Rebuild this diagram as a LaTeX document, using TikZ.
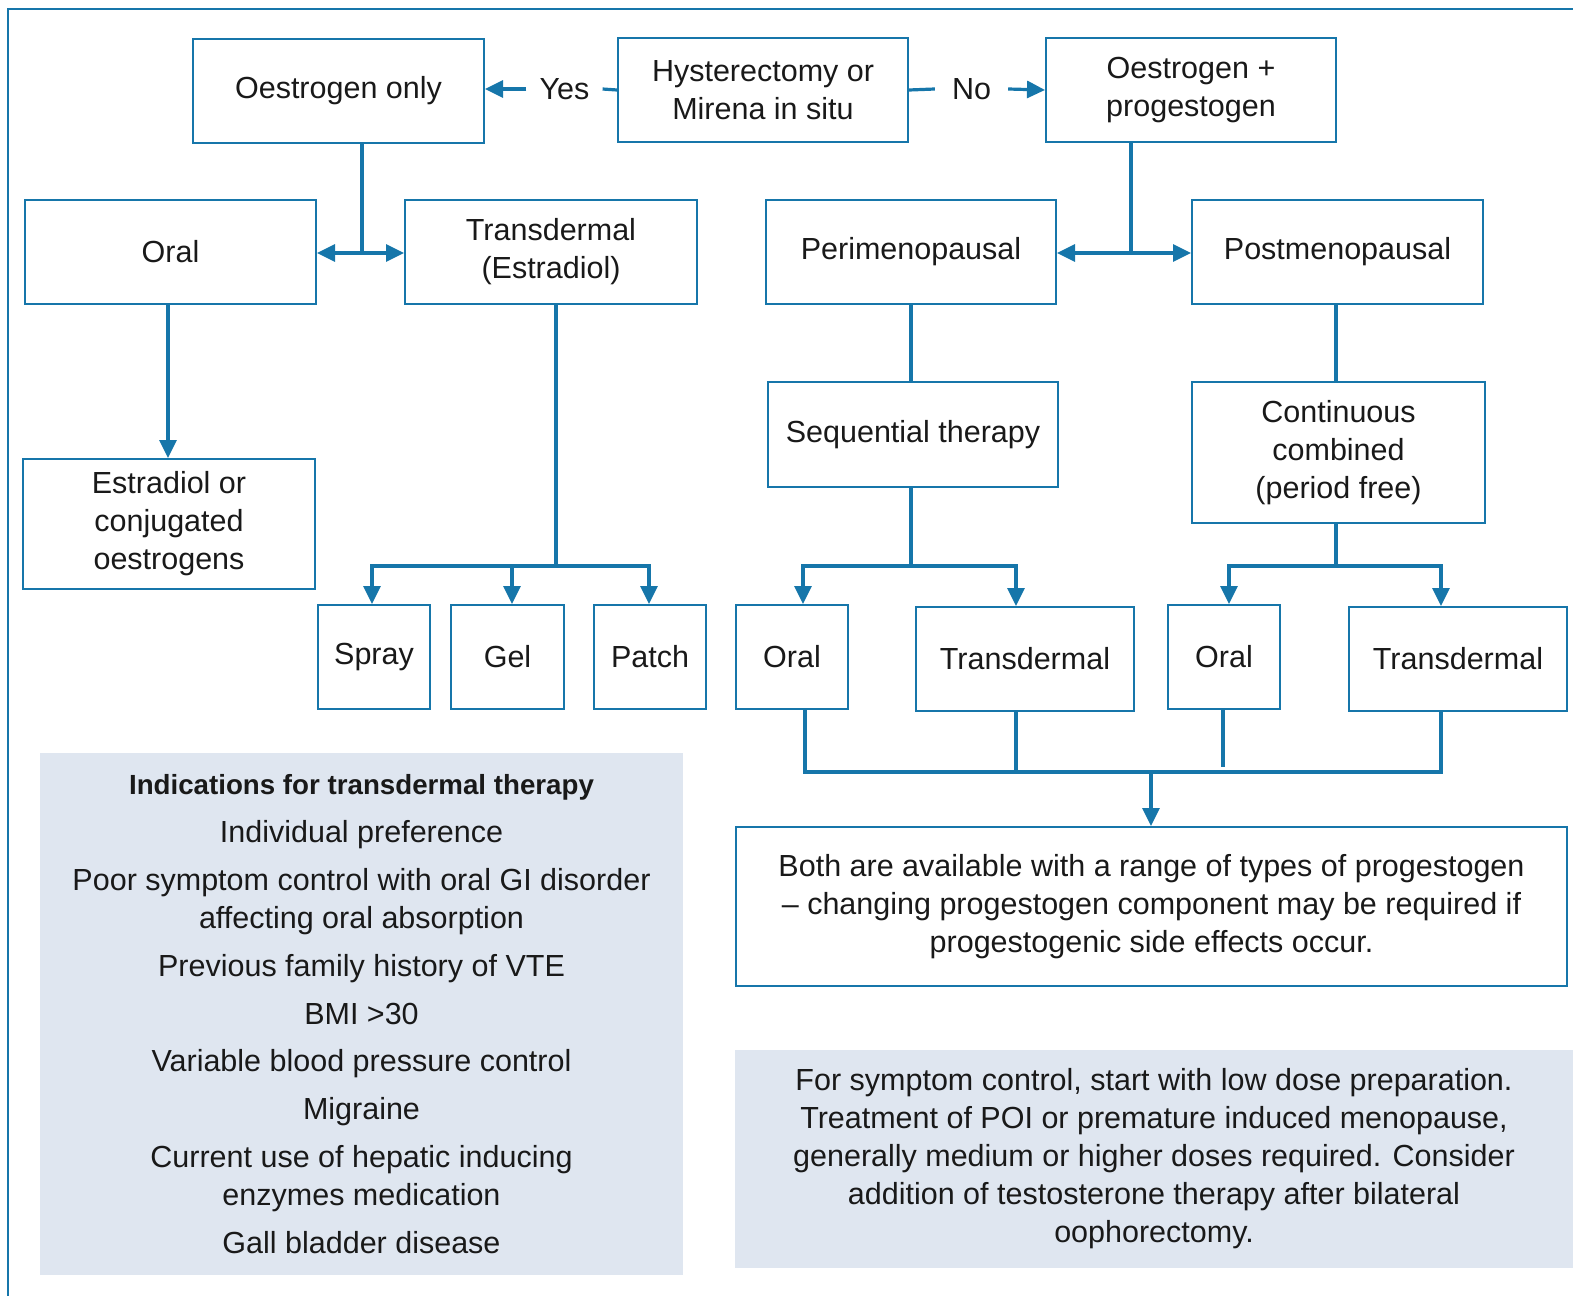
\documentclass[tikz,border=0pt]{standalone}
\usepackage{fontspec}
\setmainfont{Liberation Sans}
\usetikzlibrary{arrows.meta}
\definecolor{lb}{RGB}{22,118,170}
\definecolor{gb}{RGB}{223,230,240}
\definecolor{tx}{RGB}{25,25,25}
\begin{document}
\begin{tikzpicture}[x=1pt,y=-1pt,
  box/.style={draw=lb, line width=2pt, inner sep=0pt, align=center, text=tx,
    font=\fontsize{30.5}{38}\selectfont},
  lbl/.style={inner ysep=0pt, text=tx, font=\fontsize{30.5}{38}\selectfont},
  grey/.style={fill=gb, inner sep=0pt, align=center, text=tx,
    font=\fontsize{30.5}{38}\selectfont},
  conn/.style={draw=lb, line width=3.2pt},
  arr/.style={conn, -{Triangle[length=18pt,width=17pt]}}]
\useasboundingbox (0,0) rectangle (1573,1295);
\draw[lb, line width=2pt] (8,1300) -- (8,9) -- (1580,9);

% top row
\node[box, minimum width=291pt, minimum height=104pt] (oe) at (338.5,91) {Oestrogen only};
\node[box, minimum width=290pt, minimum height=104pt] (hy) at (763,90) {Hysterectomy or\\Mirena in situ};
\node[box, minimum width=290pt, minimum height=104pt] (op) at (1191,90) {Oestrogen +\\progestogen};
\node[lbl, inner xsep=13pt] (yes) at (564.5,89) {Yes};
\node[lbl, inner xsep=17pt] (no) at (971.5,89) {No};

% second row
\node[box, minimum width=291pt, minimum height=104pt] (oral) at (170.5,252) {Oral};
\node[box, minimum width=292pt, minimum height=104pt] (td) at (551,252) {Transdermal\\(Estradiol)};
\node[box, minimum width=290pt, minimum height=104pt] (peri) at (911,252) {Perimenopausal};
\node[box, minimum width=291pt, minimum height=104pt] (post) at (1337.5,252) {Postmenopausal};

% third row
\node[box, minimum width=292pt, minimum height=130pt] (estr) at (169,524) {Estradiol or\\conjugated\\oestrogens};
\node[box, minimum width=290pt, minimum height=105pt] (seq) at (913,434.5) {Sequential therapy};
\node[box, minimum width=293pt, minimum height=141pt] (cont) at (1338.5,452.5) {Continuous\\combined\\(period free)};

% fourth row
\node[box, minimum width=112pt, minimum height=104pt] (spray) at (374,657) {Spray};
\node[box, minimum width=113pt, minimum height=104pt] (gel) at (507.5,657) {Gel};
\node[box, minimum width=112pt, minimum height=104pt] (patch) at (650,657) {Patch};
\node[box, minimum width=112pt, minimum height=104pt] (oral3) at (792,657) {Oral};
\node[box, minimum width=218pt, minimum height=104pt] (td4) at (1025,659) {Transdermal};
\node[box, minimum width=112pt, minimum height=104pt] (oral5) at (1224,657) {Oral};
\node[box, minimum width=218pt, minimum height=104pt] (td6) at (1458,659) {Transdermal};

% bottom boxes
\node[box, minimum width=831pt, minimum height=159pt] (both) at (1151.5,906.5)
  {Both are available with a range of types of progestogen\\
   -- changing progestogen component may be required if\\
   progestogenic side effects occur.};
\node[grey, minimum width=643pt, minimum height=522pt] (ind) at (361.5,1014)
  {{\bfseries\fontsize{27.7}{38}\selectfont Indications for transdermal therapy}\\[10pt]
   Individual preference\\[10pt]
   Poor symptom control with oral GI disorder\\
   affecting oral absorption\\[10pt]
   Previous family history of VTE\\[10pt]
   BMI >30\\[9pt]
   Variable blood pressure control\\[10pt]
   Migraine\\[10pt]
   Current use of hepatic inducing\\
   enzymes medication\\[10pt]
   Gall bladder disease};
\node[grey, minimum width=838pt, minimum height=218pt] (sym) at (1154,1159)
  {For symptom control, start with low dose preparation.\\
   Treatment of POI or premature induced menopause,\\
   generally medium or higher doses required. Consider\\
   addition of testosterone therapy after bilateral\\
   oophorectomy.};

% connectors: top
\draw[conn] (hy.west) -- (yes.east);
\draw[arr] (yes.west) -- (oe.east |- yes.west);
\draw[conn] (hy.east) -- (no.west);
\draw[arr] (no.east) -- (op.west);

\coordinate (j1) at (362,253);
\draw[conn] (oe.south -| j1) -- (j1);
\draw[arr] (j1) -- (oral.east |- j1);
\draw[arr] (j1) -- (td.west |- j1);

\coordinate (j2) at (1131,253);
\draw[conn] (op.south -| j2) -- (j2);
\draw[arr] (j2) -- (peri.east |- j2);
\draw[arr] (j2) -- (post.west |- j2);

% oral -> estradiol
\coordinate (o1) at (168,0);
\draw[arr] (oral.south -| o1) -- (estr.north -| o1);

% transdermal -> spray/gel/patch
\coordinate (t1) at (556,566);
\coordinate (sx) at (372,0);
\coordinate (gx) at (512,0);
\coordinate (px) at (649,0);
\draw[conn] (td.south -| t1) -- (t1);
\draw[conn, line cap=rect] (t1 -| sx) -- (t1 -| px);
\draw[arr] (t1 -| sx) -- (spray.north -| sx);
\draw[arr] (t1 -| gx) -- (gel.north -| gx);
\draw[arr] (t1 -| px) -- (patch.north -| px);

% peri / post
\coordinate (p1) at (911,0);
\draw[conn] (peri.south -| p1) -- (seq.north -| p1);
\coordinate (q1) at (1336,0);
\draw[conn] (post.south -| q1) -- (cont.north -| q1);

% sequential -> oral/transdermal
\coordinate (s1) at (911,566);
\coordinate (ax) at (803,0);
\coordinate (bx) at (1016,0);
\draw[conn] (seq.south -| s1) -- (s1);
\draw[conn, line cap=rect] (s1 -| ax) -- (s1 -| bx);
\draw[arr] (s1 -| ax) -- (oral3.north -| ax);
\draw[arr] (s1 -| bx) -- (td4.north -| bx);

% continuous -> oral/transdermal
\coordinate (c1) at (1336,566);
\coordinate (cx) at (1229,0);
\coordinate (dx) at (1441,0);
\draw[conn] (cont.south -| c1) -- (c1);
\draw[conn, line cap=rect] (c1 -| cx) -- (c1 -| dx);
\draw[arr] (c1 -| cx) -- (oral5.north -| cx);
\draw[arr] (c1 -| dx) -- (td6.north -| dx);

% bottom merge
\coordinate (b1) at (1151,772);
\coordinate (ex) at (805,0);
\coordinate (fx) at (1016,0);
\coordinate (gx2) at (1223,0);
\coordinate (hx) at (1441,0);
\draw[conn, line join=miter] (oral3.south -| ex) -- (b1 -| ex) -- (b1 -| hx) -- (td6.south -| hx);
\draw[conn] (td4.south -| fx) -- (b1 -| fx);
\draw[conn] (oral5.south -| gx2) -- ([yshift=5pt]b1 -| gx2);
\draw[arr] (b1) -- (both.north -| b1);
\end{tikzpicture}
\end{document}
